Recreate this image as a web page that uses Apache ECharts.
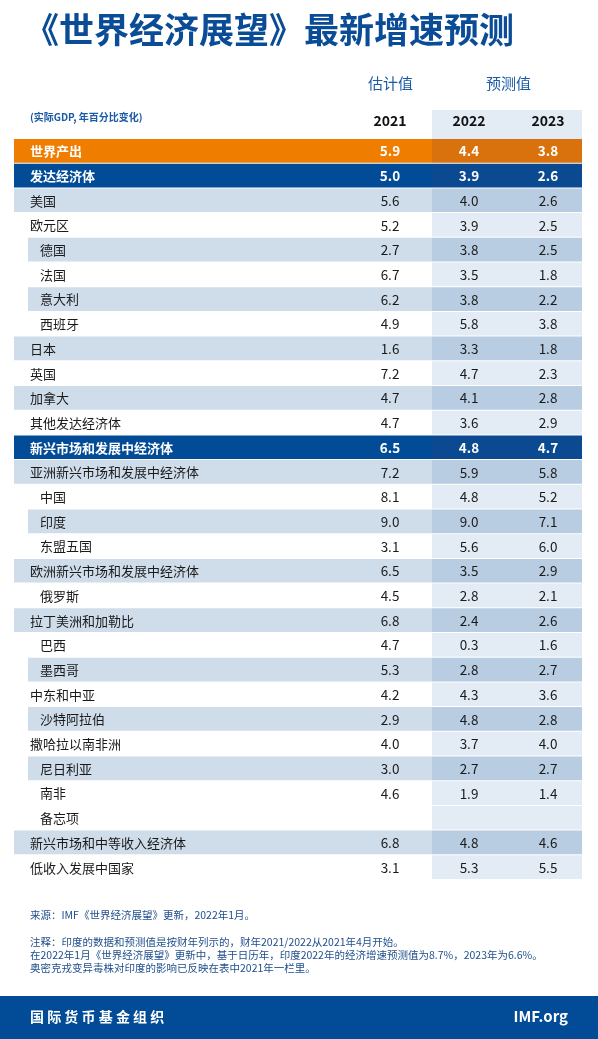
<!DOCTYPE html>
<html><head><meta charset="utf-8">
<script src="https://cdn.jsdelivr.net/npm/echarts@6/dist/echarts.min.js"></script>
<style>html,body{margin:0;padding:0;background:#fff}#c{width:598px;height:1039px}</style>
</head><body><div id="c"></div>
<script>
const labels = ['世界产出','发达经济体','美国','欧元区','德国','法国','意大利','西班牙','日本','英国','加拿大','其他发达经济体','新兴市场和发展中经济体','亚洲新兴市场和发展中经济体','中国','印度','东盟五国','欧洲新兴市场和发展中经济体','俄罗斯','拉丁美洲和加勒比','巴西','墨西哥','中东和中亚','沙特阿拉伯','撒哈拉以南非洲','尼日利亚','南非','备忘项','新兴市场和中等收入经济体','低收入发展中国家'];
const v2021 = ['5.9','5.0','5.6','5.2','2.7','6.7','6.2','4.9','1.6','7.2','4.7','4.7','6.5','7.2','8.1','9.0','3.1','6.5','4.5','6.8','4.7','5.3','4.2','2.9','4.0','3.0','4.6','','6.8','3.1'];
const v2022 = ['4.4','3.9','4.0','3.9','3.8','3.5','3.8','5.8','3.3','4.7','4.1','3.6','4.8','5.9','4.8','9.0','5.6','3.5','2.8','2.4','0.3','2.8','4.3','4.8','3.7','2.7','1.9','','4.8','5.3'];
const v2023 = ['3.8','2.6','2.6','2.5','2.5','1.8','2.2','3.8','1.8','2.3','2.8','2.9','4.7','5.8','5.2','7.1','6.0','2.9','2.1','2.6','1.6','2.7','3.6','2.8','4.0','2.7','1.4','','4.6','5.5'];
const kinds = ['o','d','b','w','b','w','b','w','b','w','b','w','d','b','w','b','w','b','w','b','w','b','w','b','w','b','w','w','b','w'];
const indent = [0,0,0,0,1,1,1,1,0,0,0,0,0,0,1,1,1,0,1,0,1,1,0,1,0,1,1,1,0,0];
const years = ['2021','2022','2023'];

const ROW0 = 139, RH = 24.7, L = 14, R = 582, FX = 432;
const colX = [390, 469, 548];
const F = '"Noto Sans CJK SC", "Noto Sans", sans-serif';
const bg = {o:['#ef7d00','#d9720c'], d:['#024b97','#0b4a90'], b:['#cfdcea','#b9cde2'], w:['#ffffff','#e3ebf4']};

const chart = echarts.init(document.getElementById('c'));
chart.setOption({
  animation:false,
  grid:{left:0,right:0,top:0,bottom:0},
  xAxis:{type:'value',min:0,max:598,show:false},
  yAxis:{type:'value',min:0,max:1039,inverse:true,show:false},
  graphic:[
    {type:'rect',shape:{x:432,y:110,width:150,height:29},style:{fill:'#e3ebf4'}},
    {type:'text',left:24,top:12,style:{text:'《世界经济展望》最新增速预测',font:'bold 35px '+F,fill:'#0b4c97'}},
    {type:'text',left:368,top:76,style:{text:'估计值',font:'15px '+F,fill:'#1a5aa6'}},
    {type:'text',left:486,top:76,style:{text:'预测值',font:'15px '+F,fill:'#1a5aa6'}},
    {type:'text',left:30,top:112,style:{text:'(实际GDP, 年百分比变化)',font:'bold 10px '+F,fill:'#1a5aa6'}},
    {type:'text',left:30,top:910,style:{text:'来源：IMF《世界经济展望》更新，2022年1月。',font:'10.5px '+F,fill:'#1f4e8c'}},
    {type:'text',left:30,top:936,style:{text:'注释：印度的数据和预测值是按财年列示的，财年2021/2022从2021年4月开始。\n在2022年1月《世界经济展望》更新中，基于日历年，印度2022年的经济增速预测值为8.7%，2023年为6.6%。\n奥密克戎变异毒株对印度的影响已反映在表中2021年一栏里。',font:'10.5px '+F,fill:'#1f4e8c',lineHeight:13}},
    {type:'rect',shape:{x:0,y:996,width:598,height:43},style:{fill:'#024b97'}},
    {type:'text',left:30,top:1010,style:{text:'国 际 货 币 基 金 组 织',font:'bold 14px '+F,fill:'#fff'}},
    {type:'text',right:30,top:1009,style:{text:'IMF.org',font:'bold 15px '+F,fill:'#fff'}}
  ],
  series:[
    {type:'custom',
     data: years.map((y,i)=>[colX[i],121,y]),
     renderItem:(p,api)=>{const c=api.coord([api.value(0),api.value(1)]);
       return {type:'text',style:{text:years[p.dataIndex],x:c[0],y:c[1],align:'center',verticalAlign:'middle',font:'bold 14px '+F,fill:'#111'}};}
    },
    {type:'custom',
     data: labels.map((l,i)=>[i]),
     renderItem:(p,api)=>{
       const i=p.dataIndex, k=kinds[i], head=(k==='o'||k==='d');
       const tl=api.coord([indent[i]&&k==='b'?28:L, ROW0+i*RH]);
       const fx=api.coord([FX, ROW0+i*RH]);
       const br=api.coord([R, ROW0+(i+1)*RH]);
       const cy=(tl[1]+br[1])/2;
       const ch=[
         {type:'rect',shape:{x:tl[0],y:tl[1],width:fx[0]-tl[0],height:br[1]-tl[1]-1},style:{fill:bg[k][0]}},
         {type:'rect',shape:{x:fx[0],y:tl[1],width:br[0]-fx[0],height:br[1]-tl[1]-1},style:{fill:bg[k][1]}},
         {type:'text',style:{text:labels[i],x:api.coord([indent[i]?40:30,0])[0],y:cy,verticalAlign:'middle',font:(head?'bold ':'')+'13px '+F,fill:head?'#fff':'#1a1a1a'}}
       ];
       [v2021,v2022,v2023].forEach((arr,j)=>{
         ch.push({type:'text',style:{text:arr[i],x:api.coord([colX[j],0])[0],y:cy,align:'center',verticalAlign:'middle',font:(head?'bold ':'')+'13.5px '+F,fill:head?'#fff':'#1a1a1a'}});
       });
       return {type:'group',children:ch};
     }
    }
  ]
});
</script></body></html>
